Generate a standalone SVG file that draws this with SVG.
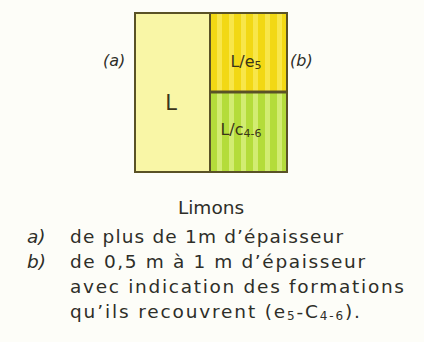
<svg xmlns="http://www.w3.org/2000/svg" width="424" height="342" viewBox="0 0 424 342">
<style>
text{font-family:"DejaVu Sans","Liberation Sans",Arial,sans-serif;fill:#2e2e28}
.lbl{font-size:16px}
.cell{font-size:16px;fill:#3a3418}
.leg{font-size:18.5px}
.bd{fill:none;stroke:#5a5226;stroke-width:2}
</style>
<defs>
<pattern id="ystripe" width="12" height="10" patternUnits="userSpaceOnUse" x="211">
<rect width="12" height="10" fill="#f2d814"/>
<rect x="6" width="5" height="10" fill="#f8e64a"/>
</pattern>
<pattern id="gstripe" width="12" height="10" patternUnits="userSpaceOnUse" x="211">
<rect width="12" height="10" fill="#b4dc3a"/>
<rect x="6" width="5" height="10" fill="#d2ec72"/>
</pattern>
</defs>
<rect width="424" height="342" fill="#fdfdf8"/>
<g id="node-L">
<rect x="135" y="13" width="75" height="159" fill="#f9f6a6"/>
<text class="cell" x="171" y="110" text-anchor="middle" style="font-size:21px">L</text>
</g>
<g id="node-Les">
<rect x="210" y="13" width="77" height="79" fill="url(#ystripe)"/>
<text class="cell" x="246" y="67" text-anchor="middle">L/e<tspan font-size="11" dy="2">5</tspan></text>
</g>
<g id="node-Lc">
<rect x="210" y="92" width="77" height="80" fill="url(#gstripe)"/>
<text class="cell" x="241" y="135" text-anchor="middle">L/c<tspan font-size="11" dy="2">4-6</tspan></text>
</g>
<g id="connectors">
<rect class="bd" x="135" y="13" width="152" height="159"/>
<line class="bd" x1="210" y1="13" x2="210" y2="172"/>
<line class="bd" x1="210" y1="92" x2="287" y2="92" style="stroke-width:3"/>
</g>
<g id="labels">
<text class="lbl" x="103" y="66" font-style="italic">(a)</text>
<text class="lbl" x="290" y="66" font-style="italic">(b)</text>
</g>
<g id="legend">
<text class="leg" x="211" y="214" text-anchor="middle">Limons</text>
<text class="leg" x="27" y="243" font-style="italic">a)</text>
<text class="leg" x="70" y="243" textLength="273" lengthAdjust="spacing">de plus de 1m d’épaisseur</text>
<text class="leg" x="27" y="268" font-style="italic">b)</text>
<text class="leg" x="70" y="268" textLength="295" lengthAdjust="spacing">de 0,5 m à 1 m d’épaisseur</text>
<text class="leg" x="70" y="293" textLength="334" lengthAdjust="spacing">avec indication des formations</text>
<text class="leg" x="70" y="318" textLength="290" lengthAdjust="spacing">qu’ils recouvrent (e<tspan font-size="12" dy="2">5</tspan><tspan dy="-2">-C</tspan><tspan font-size="12" dy="2">4-6</tspan><tspan dy="-2">).</tspan></text>
</g>
</svg>
